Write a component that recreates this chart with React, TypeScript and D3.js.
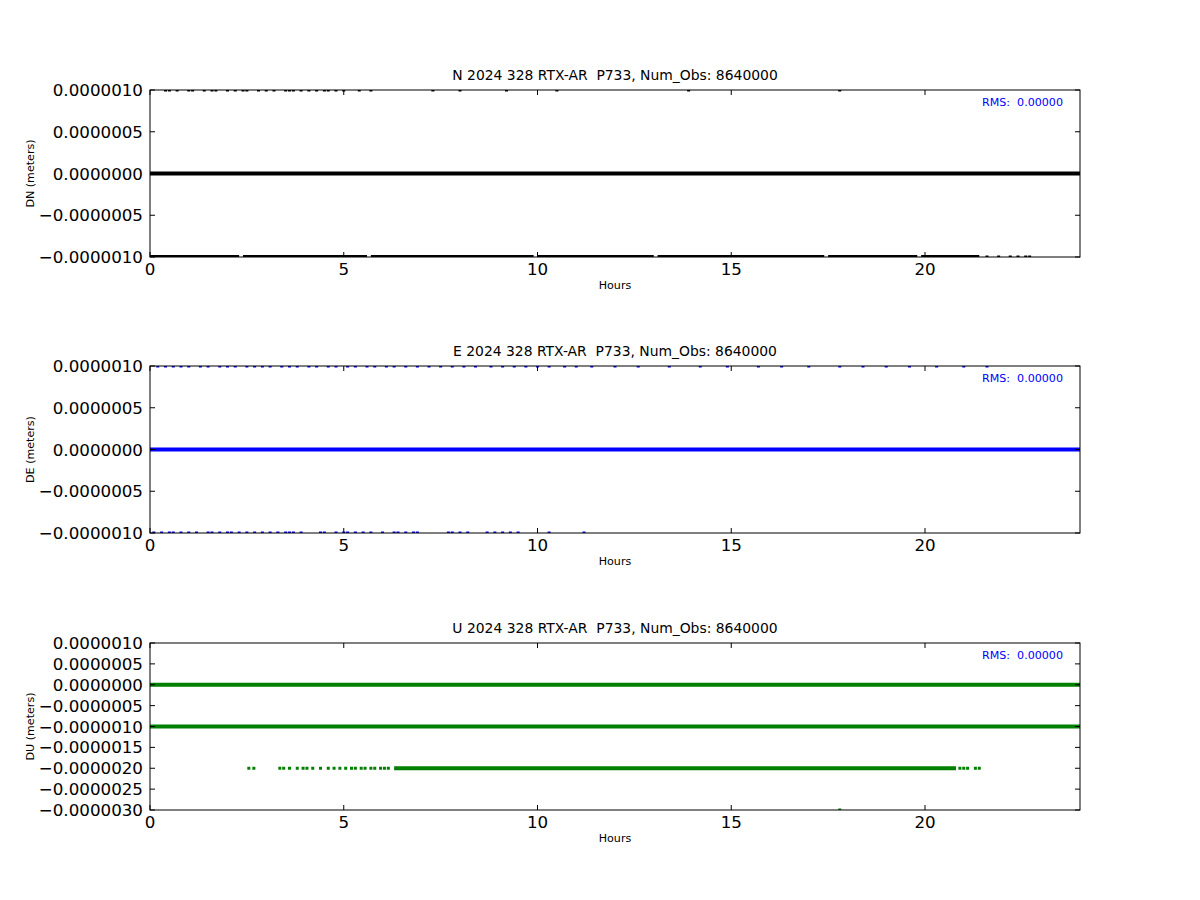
import React from "react";
import * as d3 from "d3";

// ---------- data (hours) ----------
const TITLE_SUFFIX = "2024 328 RTX-AR  P733, Num_Obs: 8640000";
const RMS_TEXT = "RMS:  0.00000";
const X_TICKS = [0, 5, 10, 15, 20];

// North
const N_Y_TICKS = [1e-6, 0.5e-6, 0, -0.5e-6, -1e-6];
const N_ZERO_SEGMENTS: [number, number][] = [[0, 24]];
const N_TOP_POINTS = [0.4, 0.5, 0.7, 1.0, 1.1, 1.4, 1.6, 1.7, 2.0, 2.2, 2.4, 2.5, 2.8, 3.0, 3.2, 3.5, 3.6, 3.7, 3.9, 4.1, 4.3, 4.5, 4.6, 4.8, 5.0, 5.4, 5.7, 7.3, 8.0, 9.2, 10.5, 13.9, 17.8];
const N_BOTTOM_SEGMENTS: [number, number][] = [[0, 2.3], [2.4, 5.6], [5.7, 9.9], [10.0, 13.0], [13.1, 17.4], [17.5, 19.8], [19.9, 21.4]];
const N_BOTTOM_POINTS = [21.6, 21.9, 22.2, 22.4, 22.6, 22.7];

// East
const E_Y_TICKS = [1e-6, 0.5e-6, 0, -0.5e-6, -1e-6];
const E_ZERO_SEGMENTS: [number, number][] = [[0, 24]];
const E_TOP_POINTS = [0.2, 0.4, 0.6, 0.8, 1.0, 1.3, 1.5, 1.8, 2.0, 2.2, 2.5, 2.7, 2.9, 3.1, 3.4, 3.6, 3.8, 4.1, 4.3, 4.6, 4.8, 5.1, 5.3, 5.6, 5.8, 6.1, 6.3, 6.6, 6.9, 7.2, 7.5, 7.8, 8.1, 8.4, 8.8, 9.1, 9.4, 9.7, 10.0, 10.3, 10.7, 11.0, 11.4, 12.0, 12.6, 13.4, 14.2, 14.9, 15.7, 16.3, 17.0, 17.8, 18.4, 19.0, 19.6, 20.3, 21.0, 21.6];
const E_BOTTOM_POINTS = [0.1, 0.3, 0.5, 0.6, 0.8, 1.0, 1.2, 1.5, 1.6, 1.8, 2.0, 2.1, 2.3, 2.5, 2.7, 2.9, 3.1, 3.3, 3.5, 3.6, 3.7, 3.9, 4.4, 4.5, 4.8, 5.0, 5.1, 5.3, 5.5, 5.7, 6.0, 6.3, 6.4, 6.6, 6.8, 6.9, 7.7, 7.8, 8.0, 8.2, 8.7, 8.9, 9.1, 9.3, 9.5, 10.3, 11.2];

// Up
const U_Y_TICKS = [1e-6, 0.5e-6, 0, -0.5e-6, -1e-6, -1.5e-6, -2e-6, -2.5e-6, -3e-6];
const U_ZERO_SEGMENTS: [number, number][] = [[0, 24]];
const U_M1_SEGMENTS: [number, number][] = [[0, 24]];
const U_M2_SEGMENTS: [number, number][] = [[6.3, 20.8]];
const U_M2_POINTS = [2.55, 2.68, 3.35, 3.45, 3.6, 3.8, 3.95, 4.05, 4.2, 4.4, 4.6, 4.75, 4.9, 5.05, 5.2, 5.3, 5.45, 5.55, 5.7, 5.8, 5.95, 6.05, 6.15, 20.9, 21.0, 21.1, 21.3, 21.4];
const U_BOTTOM_POINTS = [17.8];

type Series = {
  value: number;
  segments?: [number, number][];
  points?: number[];
  color: string;
};

type Panel = {
  key: string;
  ylabel: string;
  domain: [number, number];
  ticks: number[];
  top: number;
  series: Series[];
};

const PANELS: Panel[] = [
  {
    key: "N", ylabel: "DN (meters)", domain: [-1e-6, 1e-6], ticks: N_Y_TICKS, top: 90,
    series: [
      { value: 0, segments: N_ZERO_SEGMENTS, color: "#000000" },
      { value: 1e-6, points: N_TOP_POINTS, color: "#000000" },
      { value: -1e-6, segments: N_BOTTOM_SEGMENTS, points: N_BOTTOM_POINTS, color: "#000000" },
    ],
  },
  {
    key: "E", ylabel: "DE (meters)", domain: [-1e-6, 1e-6], ticks: E_Y_TICKS, top: 366,
    series: [
      { value: 0, segments: E_ZERO_SEGMENTS, color: "#0000ff" },
      { value: 1e-6, points: E_TOP_POINTS, color: "#0000ff" },
      { value: -1e-6, points: E_BOTTOM_POINTS, color: "#0000ff" },
    ],
  },
  {
    key: "U", ylabel: "DU (meters)", domain: [-3e-6, 1e-6], ticks: U_Y_TICKS, top: 643,
    series: [
      { value: 0, segments: U_ZERO_SEGMENTS, color: "#008000" },
      { value: -1e-6, segments: U_M1_SEGMENTS, color: "#008000" },
      { value: -2e-6, segments: U_M2_SEGMENTS, points: U_M2_POINTS, color: "#008000" },
      { value: -3e-6, points: U_BOTTOM_POINTS, color: "#008000" },
    ],
  },
];

const LEFT = 150;
const RIGHT = 1080;
const PH = 167;
const FONT = "'DejaVu Sans', sans-serif";

function fmt(v: number): string {
  const s = Math.abs(v).toFixed(7);
  if (Math.abs(v) < 1e-12) return "0.0000000";
  return v < 0 ? "\u2212" + s : s;
}

function PanelView({ p }: { p: Panel }) {
  const x = d3.scaleLinear().domain([0, 24]).range([LEFT, RIGHT]);
  const y = d3.scaleLinear().domain(p.domain).range([p.top + PH, p.top]);
  const clipId = "clip-" + p.key;
  const tl = 5;
  return (
    <g>
      <defs>
        <clipPath id={clipId}>
          <rect x={LEFT} y={p.top} width={RIGHT - LEFT} height={PH} />
        </clipPath>
      </defs>
      <g clipPath={`url(#${clipId})`}>
        {p.series.map((s, si) => (
          <g key={si} fill={s.color} stroke="none">
            {(s.segments || []).map(([a, b], i) => (
              <rect key={"s" + i} x={x(a)} y={y(s.value) - 2} width={x(b) - x(a)} height={4} />
            ))}
            {(s.points || []).map((h, i) => (
              <rect key={"p" + i} x={x(h) - 1.5} y={y(s.value) - 1.5} width={3} height={3} />
            ))}
          </g>
        ))}
      </g>
      {/* spines */}
      <rect x={LEFT} y={p.top} width={RIGHT - LEFT} height={PH} fill="none" stroke="#000" strokeWidth={1} />
      {/* x ticks */}
      {X_TICKS.map((t) => (
        <g key={"xt" + t}>
          <line x1={x(t)} x2={x(t)} y1={p.top + PH} y2={p.top + PH - tl} stroke="#000" />
          <line x1={x(t)} x2={x(t)} y1={p.top} y2={p.top + tl} stroke="#000" />
          <text x={x(t)} y={p.top + PH + 18} textAnchor="middle" fontSize={16.7} fontFamily={FONT}>{t}</text>
        </g>
      ))}
      {/* y ticks */}
      {p.ticks.map((t) => (
        <g key={"yt" + t}>
          <line x1={LEFT} x2={LEFT + tl} y1={y(t)} y2={y(t)} stroke="#000" />
          <line x1={RIGHT} x2={RIGHT - tl} y1={y(t)} y2={y(t)} stroke="#000" />
          <text x={LEFT - 7} y={y(t)} dy="0.36em" textAnchor="end" fontSize={16.7} fontFamily={FONT}>{fmt(t)}</text>
        </g>
      ))}
      <text x={(LEFT + RIGHT) / 2} y={p.top - 10} textAnchor="middle" fontSize={13.9} fontFamily={FONT} style={{ whiteSpace: "pre" }}>
        {p.key + " " + TITLE_SUFFIX}
      </text>
      <text x={(LEFT + RIGHT) / 2} y={p.top + PH + 32} textAnchor="middle" fontSize={11.1} fontFamily={FONT}>Hours</text>
      <text transform={`translate(34,${p.top + PH / 2}) rotate(-90)`} textAnchor="middle" fontSize={11.1} fontFamily={FONT}>
        {p.ylabel}
      </text>
      <text x={1063} y={p.top + 16} textAnchor="end" fontSize={11.1} fill="#0000ff" fontFamily={FONT} style={{ whiteSpace: "pre" }}>{RMS_TEXT}</text>
    </g>
  );
}

export default function App() {
  return (
    <svg width={1200} height={900} style={{ position: "absolute", left: 0, top: 0, background: "#fff" }}>
      <rect width={1200} height={900} fill="#fff" />
      {PANELS.map((p) => (
        <PanelView key={p.key} p={p} />
      ))}
    </svg>
  );
}
